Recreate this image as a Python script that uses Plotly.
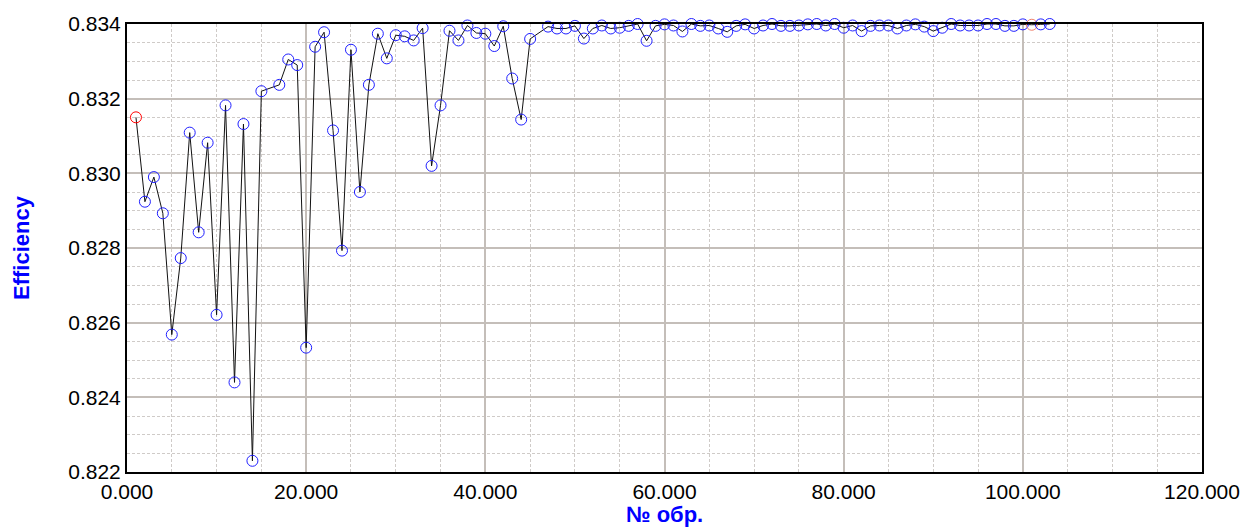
import plotly.graph_objects as go

# Sample numbers (Nos. 16 and 46 are absent from the series)
sample_no = list(range(1, 16)) + list(range(17, 46)) + list(range(47, 104))

efficiency = [
    0.8315, 0.82924, 0.8299, 0.82893, 0.82568, 0.82773, 0.83109, 0.82842,
    0.83082, 0.82621, 0.83182, 0.8244, 0.83132, 0.8223, 0.8322,
    0.83237, 0.83305, 0.8329, 0.82533, 0.83339, 0.83378, 0.83115, 0.82793,
    0.83331, 0.8295, 0.83237, 0.83374, 0.83308, 0.8337, 0.83367, 0.83356,
    0.83389, 0.8302, 0.83182, 0.83382, 0.83356, 0.83396, 0.83376, 0.83374,
    0.83341, 0.83394, 0.83254, 0.83144, 0.8336,
    0.83393, 0.83388, 0.83388, 0.83395, 0.83361, 0.83388, 0.83396, 0.83388,
    0.8339, 0.83395, 0.834, 0.83355, 0.83395, 0.83399, 0.83396, 0.8338,
    0.834, 0.83395, 0.83396, 0.83388, 0.83379, 0.83395, 0.83399, 0.83388,
    0.83396, 0.834, 0.83395, 0.83395, 0.83396, 0.83399, 0.834, 0.83396,
    0.834, 0.8339, 0.83396, 0.83381, 0.83395, 0.83396, 0.83396, 0.83388,
    0.83396, 0.83399, 0.83393, 0.83381, 0.8339, 0.834, 0.83396, 0.83396,
    0.83396, 0.834, 0.834, 0.83395, 0.83395, 0.83399, 0.83398, 0.83399,
    0.834,
]

# Highlighted samples: first one red, sample 101 salmon
highlight = {1: "#ff0000", 101: "#f0806c"}
marker_colors = [highlight.get(n, "#2020ff") for n in sample_no]

x_ticks = [0, 20, 40, 60, 80, 100, 120]
y_ticks = [0.822, 0.824, 0.826, 0.828, 0.830, 0.832, 0.834]

FONT = "Arial, 'Liberation Sans', sans-serif"
MAJOR = "#c4beb9"
MINOR = "#cfcbc8"

fig = go.Figure()
fig.add_trace(go.Scatter(
    x=sample_no, y=efficiency,
    mode="lines+markers",
    line=dict(color="#111111", width=1),
    marker=dict(symbol="circle-open", size=11, color=marker_colors,
                line=dict(width=1)),
    cliponaxis=False,
    showlegend=False,
))

axis_common = dict(
    showline=True, mirror=True, linecolor="black", linewidth=2,
    showgrid=True, gridcolor=MAJOR, gridwidth=2,
    zeroline=False, ticks="",
    tickfont=dict(family=FONT, size=21, color="black"),
)

fig.update_xaxes(
    range=[0, 120], tickvals=x_ticks,
    ticktext=[f"{v:.3f}" for v in x_ticks],
    minor=dict(dtick=5, showgrid=True, gridcolor=MINOR, gridwidth=1,
               griddash="3px,2px"),
    **axis_common,
)
fig.update_yaxes(
    range=[0.822, 0.834], tickvals=y_ticks,
    ticktext=[f"{v:.3f}" for v in y_ticks],
    minor=dict(dtick=0.0005, showgrid=True, gridcolor=MINOR, gridwidth=1,
               griddash="3px,2px"),
    **axis_common,
)

fig.add_annotation(
    text="<b>Efficiency</b>", xref="paper", yref="paper", x=0, y=0.5,
    xshift=-106, xanchor="center", yanchor="middle", textangle=-90,
    showarrow=False, font=dict(family=FONT, size=22, color="#0000ff"),
)
fig.add_annotation(
    text="<b>№ обр.</b>", xref="paper", yref="paper", x=0.5, y=0,
    yshift=-42, xanchor="center", yanchor="middle",
    showarrow=False, font=dict(family=FONT, size=22, color="#0000ff"),
)

fig.update_layout(
    width=1252, height=527,
    margin=dict(l=127, r=46, t=19, b=55),
    paper_bgcolor="white", plot_bgcolor="white",
)

fig.write_html("out.html")
